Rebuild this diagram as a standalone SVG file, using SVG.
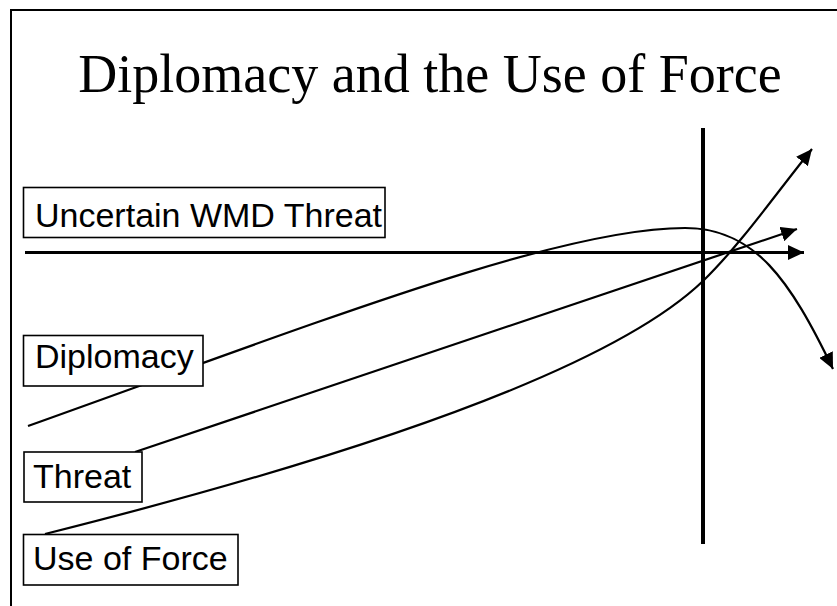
<svg xmlns="http://www.w3.org/2000/svg" width="837" height="606" viewBox="0 0 837 606">
<style>
.box{fill:#fff;stroke:#000;stroke-width:1.6}
.lbl{font-family:"Liberation Sans",Arial,sans-serif;font-size:34px;fill:#000}
.title{font-family:"Liberation Serif","Times New Roman",serif;font-size:54px;fill:#000}
.curve{fill:none;stroke:#000;stroke-width:2.2;marker-end:url(#arrow)}
</style>
<defs>
<marker id="arrow" markerUnits="userSpaceOnUse" markerWidth="17" markerHeight="15" refX="16" refY="7.5" orient="auto" viewBox="0 0 17 15">
<path d="M0,0 L16,7.5 L0,15 z" fill="#000"/>
</marker>
</defs>
<rect x="11" y="10" width="840" height="620" fill="#fff" stroke="#000" stroke-width="2"/>
<text class="title" x="430" y="92" text-anchor="middle">Diplomacy and the Use of Force</text>
<g id="connectors">
<line x1="703" y1="128" x2="703" y2="544" stroke="#000" stroke-width="4"/>
<line x1="25" y1="252.5" x2="804" y2="252.5" stroke="#000" stroke-width="3" marker-end="url(#arrow)"/>
<path class="curve" d="M28,426 C330,318 560,228 685,228 C755,228 790,280 833,369"/>
<path class="curve" d="M135,452 L797,229"/>
<path class="curve" d="M45,534 C300,470 600,380 703,281 C740,245 775,195 812,149"/>
</g>
<g id="uncertain">
<rect class="box" x="23.5" y="187.5" width="361.5" height="50"/>
<text class="lbl" x="35" y="227">Uncertain WMD Threat</text>
</g>
<g id="diplomacy">
<rect class="box" x="23.5" y="335.5" width="179.5" height="50.5"/>
<text class="lbl" x="35" y="368">Diplomacy</text>
</g>
<g id="threat">
<rect class="box" x="24" y="452" width="118" height="50"/>
<text class="lbl" x="33" y="488">Threat</text>
</g>
<g id="force">
<rect class="box" x="23.5" y="534.5" width="214.5" height="50.5"/>
<text class="lbl" x="33" y="570">Use of Force</text>
</g>
</svg>
